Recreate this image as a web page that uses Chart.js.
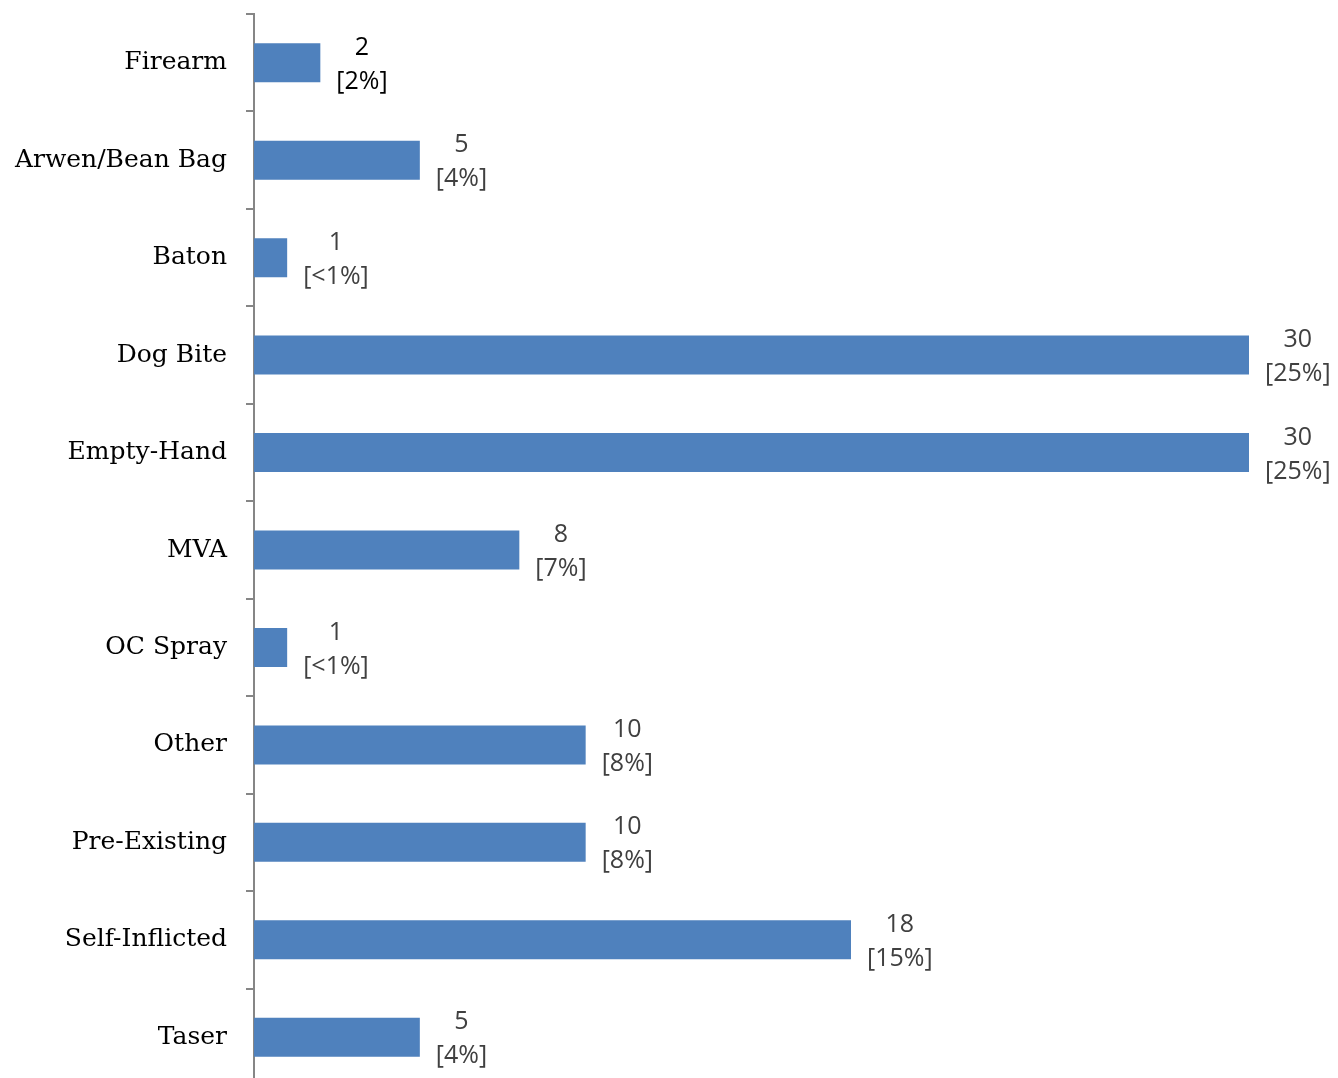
<!DOCTYPE html>
<html>
<head>
<meta charset="utf-8">
<script src="https://cdn.jsdelivr.net/npm/chart.js@4.4.1/dist/chart.umd.min.js"></script>
<style>
  html, body { margin: 0; padding: 0; background: #ffffff; overflow: hidden; }
  #wrap { position: relative; width: 1338px; height: 1088px; }
</style>
</head>
<body>
<div id="wrap"><canvas id="chart"></canvas></div>
<script>
// Injury sources and counts
const categories = ['Firearm', 'Arwen/Bean Bag', 'Baton', 'Dog Bite', 'Empty-Hand', 'MVA',
                    'OC Spray', 'Other', 'Pre-Existing', 'Self-Inflicted', 'Taser'];
const counts = [2, 5, 1, 30, 30, 8, 1, 10, 10, 18, 5];
const shares = ['[2%]', '[4%]', '[<1%]', '[25%]', '[25%]', '[7%]', '[<1%]', '[8%]', '[8%]', '[15%]', '[4%]'];
const labelColors = ['#000000', '#404040', '#404040', '#404040', '#404040', '#404040',
                     '#404040', '#404040', '#404040', '#404040', '#404040'];

// Two-line value labels (count over share) placed just right of each bar
const valueLabels = {
  id: 'valueLabels',
  afterDatasetsDraw(chart) {
    const ctx = chart.ctx;
    const meta = chart.getDatasetMeta(0);
    ctx.save();
    ctx.font = '25px "Open Sans", sans-serif';
    ctx.textAlign = 'center';
    ctx.textBaseline = 'middle';
    meta.data.forEach((bar, i) => {
      const top = String(counts[i]);
      const bottom = shares[i];
      const w = Math.max(ctx.measureText(top).width, ctx.measureText(bottom).width);
      const cx = bar.x + 16 + w / 2;
      ctx.fillStyle = labelColors[i];
      ctx.fillText(top, cx, bar.y - 15);
      ctx.fillText(bottom, cx, bar.y + 19);
    });
    ctx.restore();
  }
};

new Chart(document.getElementById('chart'), {
  type: 'bar',
  data: {
    labels: categories,
    datasets: [{
      data: counts,
      backgroundColor: '#4F81BD',
      borderWidth: 0,
      categoryPercentage: 1,
      barPercentage: 0.4
    }]
  },
  options: {
    indexAxis: 'y',
    responsive: true,
    maintainAspectRatio: false,
    animation: false,
    devicePixelRatio: 1,
    layout: { padding: { top: 14, bottom: 2, right: 89, left: 0 } },
    plugins: { legend: { display: false }, tooltip: { enabled: false } },
    scales: {
      x: { display: false, min: 0, max: 30 },
      y: {
        afterFit(scale) {
          scale.width = 254;
          scale.paddingTop = 0;
          scale.paddingBottom = 0;
        },
        border: { display: true, color: '#868686', width: 2 },
        grid: {
          offset: true,
          drawOnChartArea: false,
          drawTicks: true,
          tickLength: 8,
          color: '#868686',
          lineWidth: 2
        },
        ticks: {
          color: '#000000',
          padding: 19,
          font: { family: '"DejaVu Serif", serif', size: 25 }
        }
      }
    }
  },
  plugins: [valueLabels]
});
</script>
</body>
</html>
